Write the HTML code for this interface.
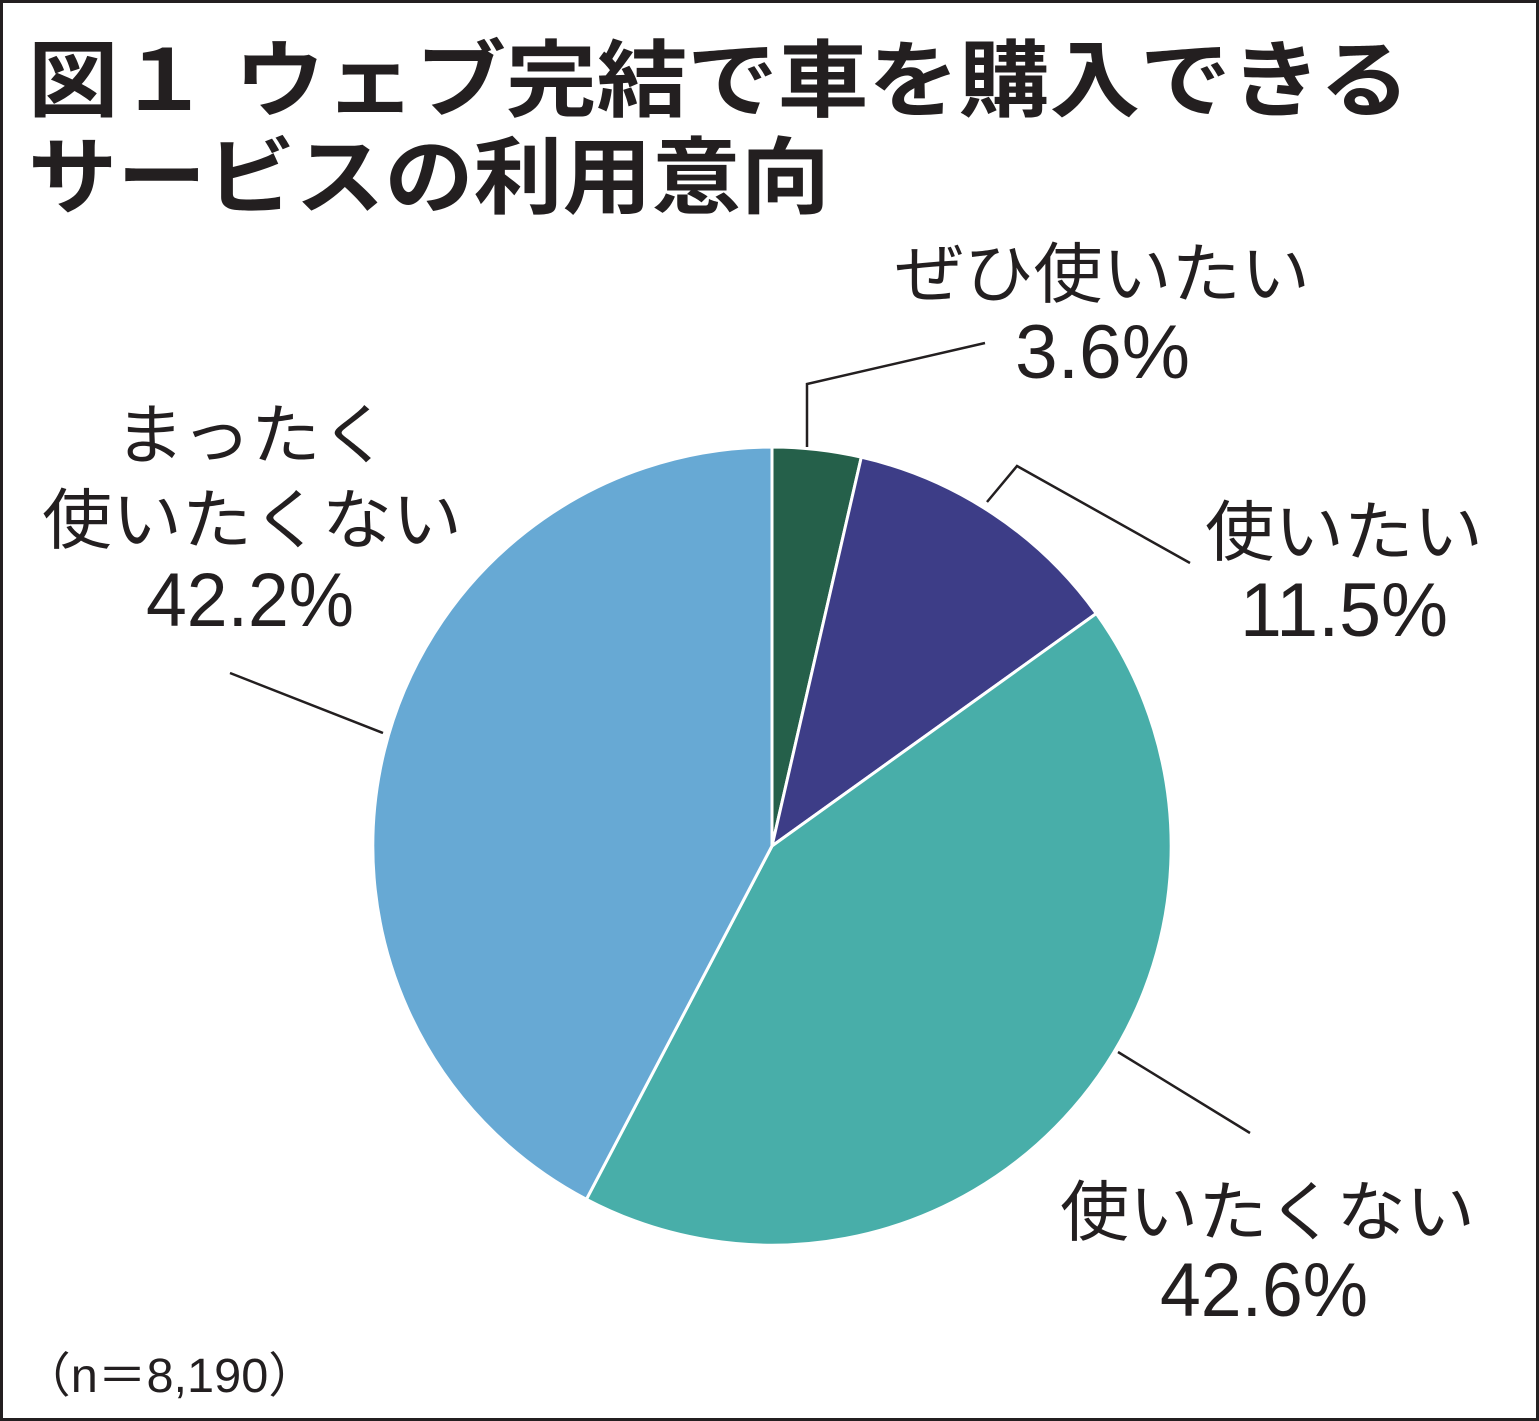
<!DOCTYPE html>
<html><head><meta charset="utf-8"><style>
html,body{margin:0;padding:0;background:#fff}
svg{display:block}
text{font-family:"Liberation Sans","Noto Sans CJK JP",sans-serif;fill:#231f20}
</style></head><body>
<svg width="1539" height="1421" viewBox="0 0 1539 1421" xmlns="http://www.w3.org/2000/svg">
<rect x="1.5" y="1.5" width="1536" height="1418" fill="#fff" stroke="#231f20" stroke-width="3"/>
<text x="28" y="110" font-size="84" font-weight="bold" textLength="1382" lengthAdjust="spacingAndGlyphs">図１ ウェブ完結で車を購入できる</text>
<text x="28" y="207" font-size="84" font-weight="bold" textLength="802" lengthAdjust="spacingAndGlyphs">サービスの利用意向</text>
<g stroke="#fff" stroke-width="3">
<path d="M772,846 L772,447 A399,399 0 0 1 861.3,457.2 Z" fill="#25604a"/>
<path d="M772,846 L861.3,457.2 A399,399 0 0 1 1096.3,613.5 Z" fill="#3d3d87"/>
<path d="M772,846 L1096.3,613.5 A399,399 0 0 1 586.4,1199.3 Z" fill="#48aea9"/>
<path d="M772,846 L586.4,1199.3 A399,399 0 0 1 772,447 Z" fill="#67a9d4"/>
</g>
<g stroke="#231f20" stroke-width="2.5" fill="none">
<polyline points="807,447 807,384 985,343"/>
<polyline points="987,502 1017,466 1190,563"/>
<line x1="1118" y1="1052" x2="1250" y2="1133"/>
<line x1="230" y1="673" x2="383" y2="733"/>
</g>
<g font-size="66">
<text x="895" y="297" textLength="415" lengthAdjust="spacingAndGlyphs">ぜひ使いたい</text>
<text x="1205" y="555" textLength="278" lengthAdjust="spacingAndGlyphs">使いたい</text>
<text x="1060" y="1235" textLength="415" lengthAdjust="spacingAndGlyphs">使いたくない</text>
<text x="115" y="458" textLength="275" lengthAdjust="spacingAndGlyphs">まったく</text>
<text x="42" y="543" textLength="420" lengthAdjust="spacingAndGlyphs">使いたくない</text>
</g>
<g font-size="76">
<text x="1015" y="378" textLength="175" lengthAdjust="spacingAndGlyphs">3.6%</text>
<text x="1240" y="636" textLength="208" lengthAdjust="spacingAndGlyphs">11.5%</text>
<text x="1160" y="1316" textLength="208" lengthAdjust="spacingAndGlyphs">42.6%</text>
<text x="146" y="626" textLength="208" lengthAdjust="spacingAndGlyphs">42.2%</text>
</g>
<text x="22" y="1392" font-size="48" textLength="295" lengthAdjust="spacingAndGlyphs">（n＝8,190）</text>
</svg>
</body></html>
